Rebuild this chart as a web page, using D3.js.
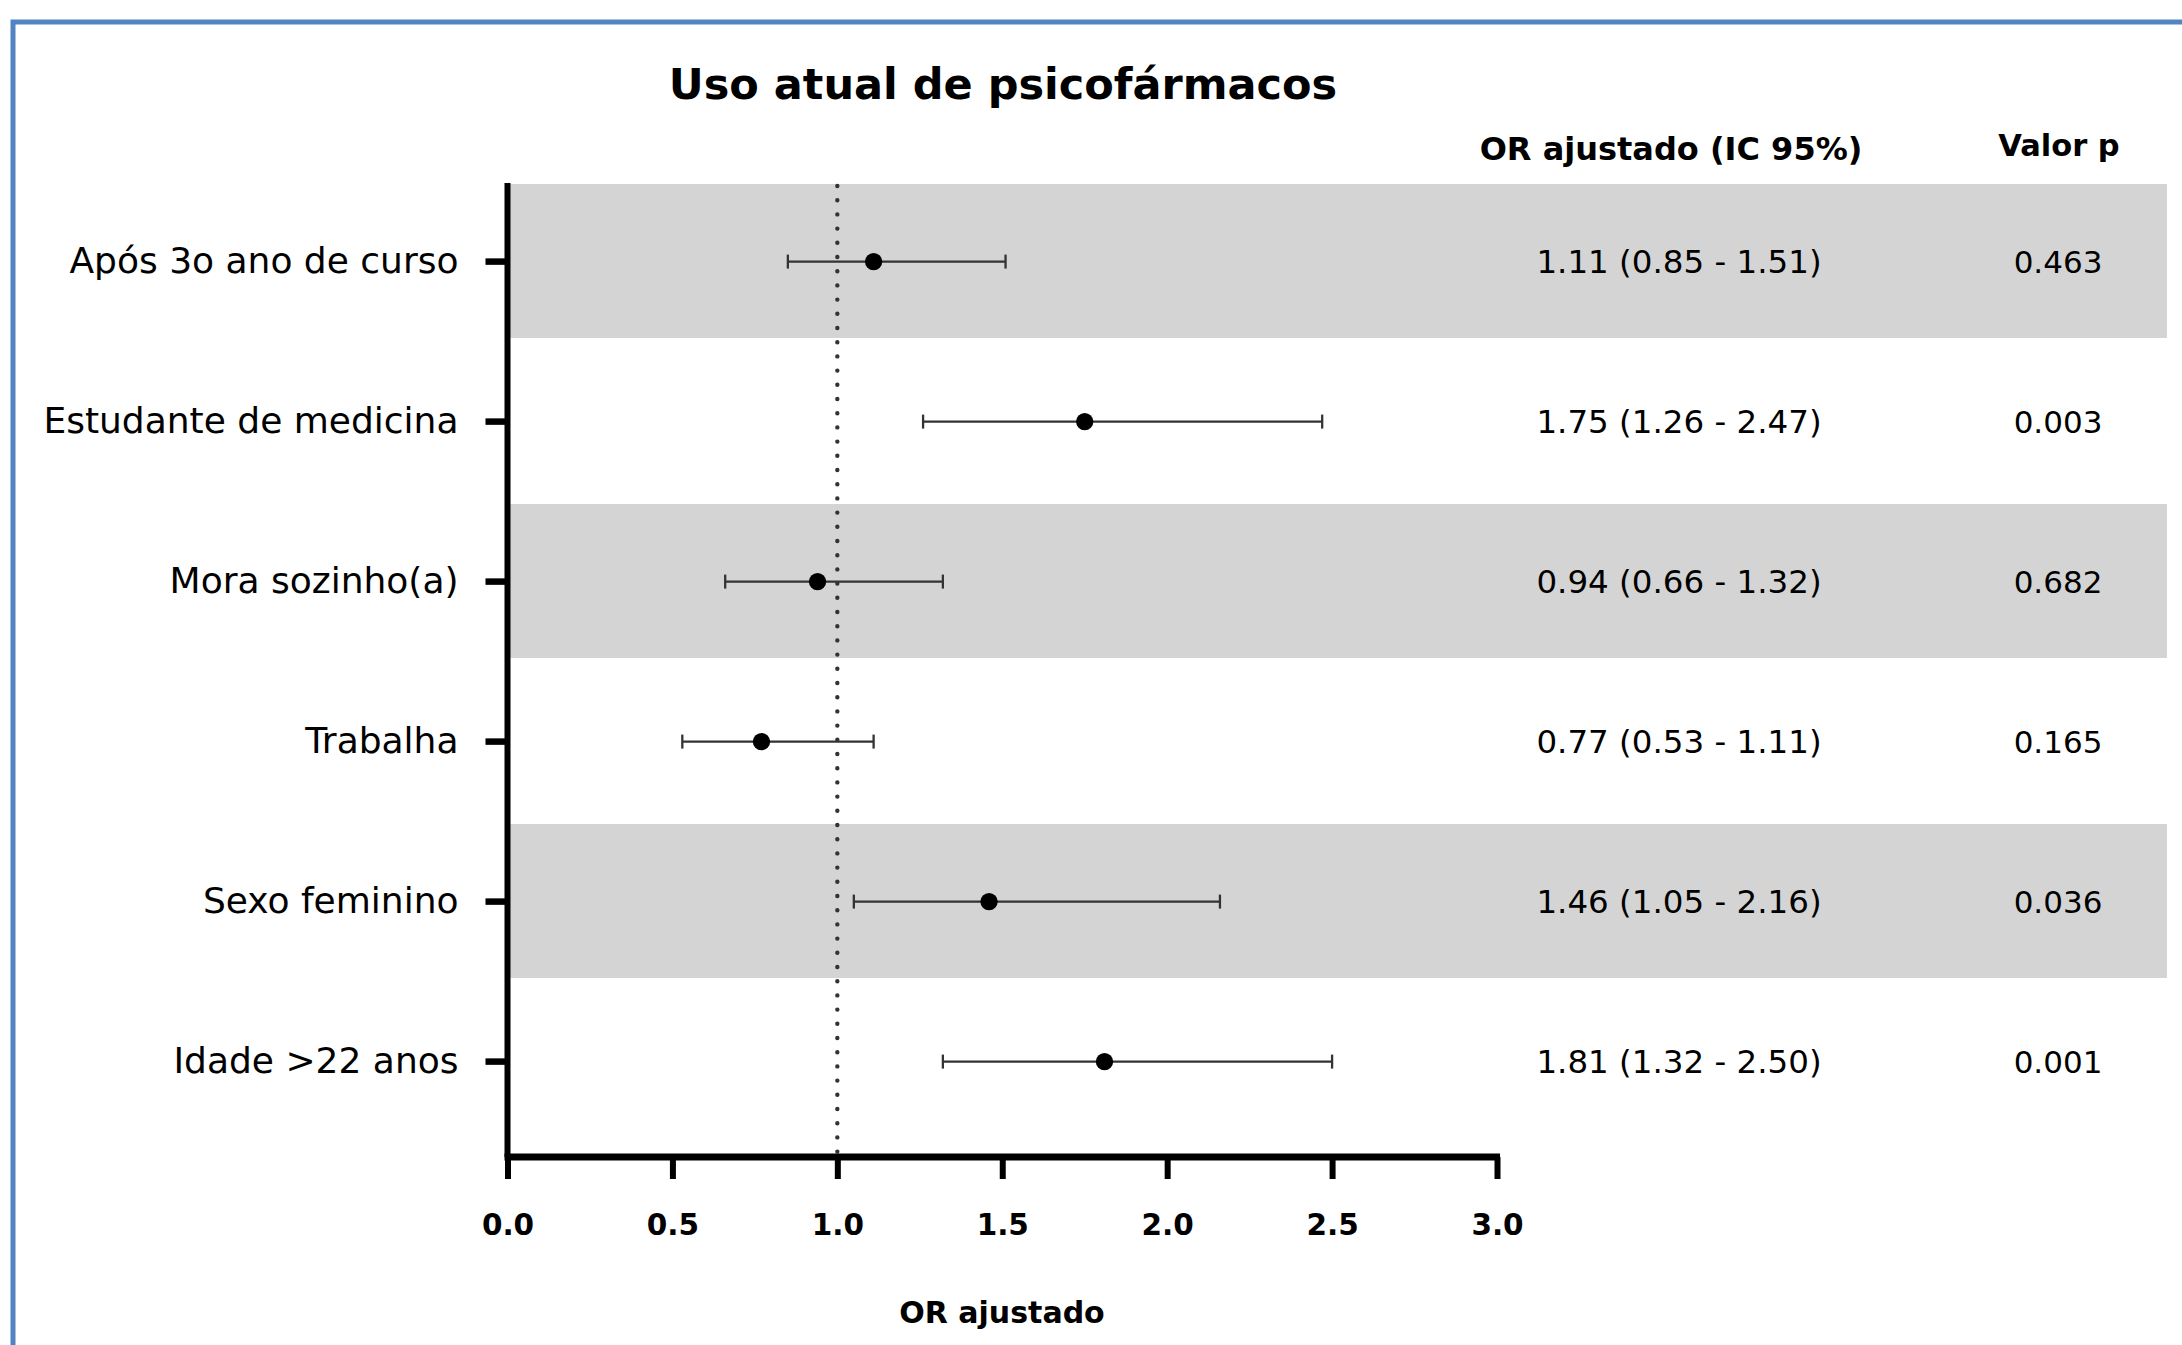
<!DOCTYPE html>
<html>
<head>
<meta charset="utf-8">
<script src="https://cdn.jsdelivr.net/npm/d3@7/dist/d3.min.js"></script>
<style>
  html, body { margin: 0; padding: 0; background: #fff; }
  svg { display: block; }
  text { font-family: "DejaVu Sans", Verdana, sans-serif; fill: #000; }
</style>
</head>
<body>
<svg id="chart" width="2182" height="1345"></svg>
<script>
const categories = ["Após 3o ano de curso", "Estudante de medicina", "Mora sozinho(a)", "Trabalha", "Sexo feminino", "Idade >22 anos"];
const orValues = [1.11, 1.75, 0.94, 0.77, 1.46, 1.81];
const ciLow = [0.85, 1.26, 0.66, 0.53, 1.05, 1.32];
const ciHigh = [1.51, 2.47, 1.32, 1.11, 2.16, 2.50];
const pValues = ["0.463", "0.003", "0.682", "0.165", "0.036", "0.001"];
const xTicks = [0, 0.5, 1.0, 1.5, 2.0, 2.5, 3.0];
const shadedRows = [0, 2, 4];

const svg = d3.select("#chart");

// frame border
svg.append("rect")
  .attr("x", 13).attr("y", 22).attr("width", 2400).attr("height", 1600)
  .attr("fill", "none").attr("stroke", "#5283c2").attr("stroke-width", 5);

const x = d3.scaleLinear().domain([0, 3]).range([507.5, 1497]);
const y = d3.scaleBand().domain(categories).range([181.6, 1141.6]).paddingInner(0).paddingOuter(0);
const axisTop = 184, axisBottom = 1157;

const rows = categories.map((c, i) => ({c, i, or: orValues[i], lo: ciLow[i], hi: ciHigh[i], p: pValues[i]}));

// shaded bands
svg.append("g").selectAll("rect")
  .data(rows.filter(d => shadedRows.includes(d.i)))
  .join("rect")
  .attr("x", x(0) + 2)
  .attr("y", d => y(d.c) + 2.4)
  .attr("width", 2167 - x(0) - 2)
  .attr("height", y.step() - 6)
  .attr("fill", "#d4d4d4");

// reference line at OR = 1
svg.append("line")
  .attr("x1", x(1)).attr("x2", x(1))
  .attr("y1", axisTop + 2).attr("y2", axisBottom)
  .attr("stroke", "#333").attr("stroke-width", 4.4)
  .attr("stroke-linecap", "round")
  .attr("stroke-dasharray", "0 14.2");

// error bars
const cy = d => y(d.c) + y.bandwidth() / 2;
const eb = svg.append("g").attr("stroke", "#333").attr("stroke-width", 2.3);
eb.selectAll("line.ci").data(rows).join("line").attr("class", "ci")
  .attr("x1", d => x(d.lo)).attr("x2", d => x(d.hi))
  .attr("y1", cy).attr("y2", cy);
eb.selectAll("line.capl").data(rows).join("line").attr("class", "capl")
  .attr("x1", d => x(d.lo)).attr("x2", d => x(d.lo))
  .attr("y1", d => cy(d) - 7).attr("y2", d => cy(d) + 7);
eb.selectAll("line.caph").data(rows).join("line").attr("class", "caph")
  .attr("x1", d => x(d.hi)).attr("x2", d => x(d.hi))
  .attr("y1", d => cy(d) - 7).attr("y2", d => cy(d) + 7);

// points
svg.append("g").selectAll("circle").data(rows).join("circle")
  .attr("cx", d => x(d.or)).attr("cy", cy).attr("r", 8.7).attr("fill", "#000");

// y axis
const yAxis = d3.axisLeft(y).tickSize(22).tickPadding(27).tickSizeOuter(0);
const gy = svg.append("g").attr("transform", `translate(${x(0)},0)`).call(yAxis);
gy.select(".domain").remove();
gy.selectAll(".tick line").attr("stroke", "#000").attr("stroke-width", 6.5);
gy.selectAll(".tick text").attr("font-size", 36).attr("font-family", "DejaVu Sans").attr("fill", "#000");
svg.append("line")
  .attr("x1", x(0)).attr("x2", x(0)).attr("y1", axisTop - 1).attr("y2", axisBottom)
  .attr("stroke", "#000").attr("stroke-width", 6);

// x axis
const xAxis = d3.axisBottom(x).tickValues(xTicks).tickFormat(d3.format(".1f"))
  .tickSize(22).tickPadding(35).tickSizeOuter(0);
const gx = svg.append("g").attr("transform", `translate(0,${axisBottom})`).call(xAxis);
gx.select(".domain").attr("stroke", "#000").attr("stroke-width", 7)
  .attr("d", `M${x(0) - 3},0H${x(3) + 3}`);
gx.selectAll(".tick line").attr("stroke", "#000").attr("stroke-width", 6);
gx.selectAll(".tick text").attr("font-size", 29.5).attr("font-weight", "bold")
  .attr("font-family", "DejaVu Sans").attr("fill", "#000");

// x axis title
svg.append("text").attr("x", 1002).attr("y", 1323).attr("text-anchor", "middle")
  .attr("font-size", 30).attr("font-weight", "bold").text("OR ajustado");

// chart title
svg.append("text").attr("x", 1003).attr("y", 99).attr("text-anchor", "middle")
  .attr("font-size", 43).attr("font-weight", "bold").text("Uso atual de psicofármacos");

// column headers
svg.append("text").attr("x", 1671).attr("y", 160).attr("text-anchor", "middle")
  .attr("font-size", 32).attr("font-weight", "bold").text("OR ajustado (IC 95%)");
svg.append("text").attr("x", 2059).attr("y", 156).attr("text-anchor", "middle")
  .attr("font-size", 30.5).attr("font-weight", "bold").text("Valor p");

// value columns
const fmt = d3.format(".2f");
svg.append("g").selectAll("text").data(rows).join("text")
  .attr("x", 1679).attr("y", cy).attr("dy", "0.36em").attr("text-anchor", "middle")
  .attr("font-size", 32.5)
  .text(d => `${fmt(d.or)} (${fmt(d.lo)} - ${fmt(d.hi)})`);
svg.append("g").selectAll("text").data(rows).join("text")
  .attr("x", 2058).attr("y", cy).attr("dy", "0.36em").attr("text-anchor", "middle")
  .attr("font-size", 31)
  .text(d => d.p);
</script>
</body>
</html>
